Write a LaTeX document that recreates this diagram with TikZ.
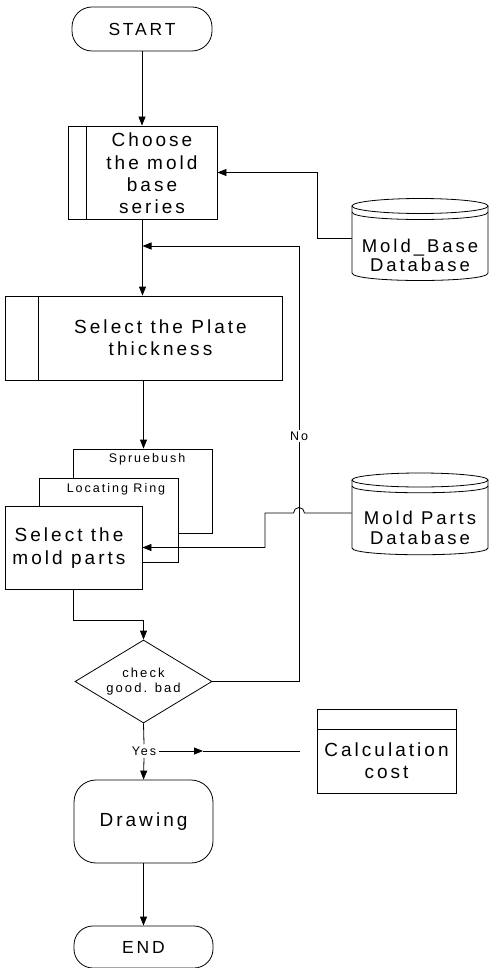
\documentclass[tikz,border=0pt]{standalone}
\usepackage{fontspec}
\setmainfont{Liberation Sans}[LetterSpace=16]
\usetikzlibrary{arrows.meta,shapes.geometric}
\begin{document}
\begin{tikzpicture}[x=1pt,y=-1pt,line width=0.8pt,
  big/.style={font=\fontsize{19}{22}\selectfont,align=center,inner sep=0pt},
  small/.style={font=\fontsize{12.5}{15}\selectfont,align=center,inner sep=1.5pt},
  boxnode/.style={draw,inner sep=0pt,minimum width=#1},
  arr/.style={-{Triangle[length=9pt,width=7pt]}}]
\useasboundingbox (0,0) rectangle (489,968);

% terminals
\node[draw,rounded corners=20pt,minimum width=140pt,minimum height=44pt,inner sep=0pt,font=\fontsize{17.5}{20}\selectfont] (st) at (142,29) {START};
\node[draw,rounded corners=19pt,minimum width=139pt,minimum height=42pt,inner sep=0pt,font=\fontsize{17.5}{20}\selectfont] (en) at (143.5,947) {END};

% choose box
\node[boxnode=149pt,minimum height=93pt] (cb) at (142.5,172.5) {};
\draw ([xshift=19pt]cb.north west) -- ([xshift=19pt]cb.south west);
\node[big,font=\fontsize{19}{22.3}\selectfont] (cbt) at (152,173.5) {Choose\\the mold\\base\\series};

% plate box
\node[boxnode=277pt,minimum height=84pt] (pb) at (143.5,338) {};
\draw ([xshift=34pt]pb.north west) -- ([xshift=34pt]pb.south west);
\node[big] (pbt) at (160.5,338) {Select the Plate\\thickness};

% stacked boxes
\node[boxnode=139pt,minimum height=84pt] (sb) at (142.5,491) {};
\node[small] (sbt) at (147,459) {Spruebush};
\node[boxnode=139pt,minimum height=84pt,fill=white] (lr) at (108.5,520) {};
\node[small] (lrt) at (116,489) {Locating Ring};
\node[boxnode=137pt,minimum height=83pt,fill=white] (mpb) at (73.5,547.5) {};
\node[big,font=\fontsize{19}{23}\selectfont] (mpbt) at (69,548.5) {Select the\\mold parts};

% decision
\node[draw,diamond,aspect=1.65,minimum width=137pt,minimum height=83pt,inner sep=0pt,font=\fontsize{13}{15}\selectfont,align=center] (dm) at (143.5,681.5) {check\\good. bad};

% calculation box
\node[boxnode=139pt,minimum height=84pt] (cc) at (386.5,751) {};
\draw ([yshift=-21pt]cc.north west) -- ([yshift=-21pt]cc.north east);
\node[big] (cct) at (386.5,761) {Calculation\\cost};

% drawing
\node[draw,rounded corners=22pt,minimum width=139pt,minimum height=83pt,inner sep=0pt,font=\fontsize{19}{22}\selectfont] (dr) at (143.5,821.5) {Drawing};

% databases
\draw (420,206) ellipse[x radius=68pt,y radius=7.5pt];
\draw (352,212) .. controls (352,222) and (488,222) .. (488,212);
\draw (352,206) -- (352,273) .. controls (352,283) and (488,283) .. (488,273) -- (488,206);
\node[big,font=\fontsize{18.5}{19}\selectfont,minimum width=136pt] (mb) at (420,255) {Mold\_Base\\Database};

\draw (420,480) ellipse[x radius=68pt,y radius=7pt];
\draw (352,486) .. controls (352,495) and (488,495) .. (488,486);
\draw (352,480) -- (352,548) .. controls (352,557) and (488,557) .. (488,548) -- (488,480);
\node[big,font=\fontsize{18.5}{20}\selectfont,minimum width=136pt] (mp) at (420,528) {Mold Parts\\Database};

% connectors
\draw[arr] (st.south) -- (st.south |- cb.north);
\draw[arr] (cb.south) -- (cb.south |- pb.north);
\coordinate (mbk) at (317,238);
\draw[arr] ([yshift=17pt]mb.west) -- (mbk) |- (cb.east);
\draw[arr] (pb.south) -- (pb.south |- sb.north);

\coordinate (nr) at (299,246);
\draw[arr] (dm.east) -| (nr) -- (nr -| cb.south);
\node[small,fill=white,inner sep=2pt] (no) at (299,436) {No};

\coordinate (j1) at (304.5,513);
\coordinate (mpk) at (265,513);
\draw[arr] ([yshift=15pt]mp.west) -- (j1) arc[start angle=0,end angle=180,radius=5.5pt] -- (mpk) -- (mpk |- mpb.east) -- (mpb.east);

\coordinate (dk) at (143.5,620);
\draw[arr] (mpb.south) |- (dk) -- (dm.north);

\node[small,inner sep=2pt] (yes) at (144,751) {Yes};
\draw (dm.south) -- (yes.north);
\draw[arr] (yes.south) -- (dr.north);
\coordinate (ym) at (203,751);
\coordinate (ye) at (300,751);
\draw[arr] (yes.east) -- (ym);
\draw (ym) -- (ye);

\draw[arr] (dr.south) -- (en.north);
\end{tikzpicture}
\end{document}
